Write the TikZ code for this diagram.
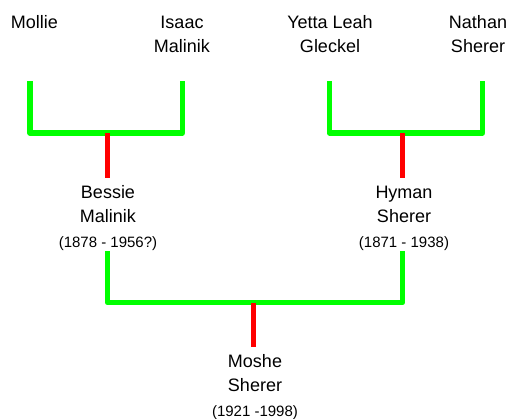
\documentclass[tikz,border=0pt]{standalone}
\usepackage{fontspec}
\setmainfont{Liberation Sans}
\begin{document}
\begin{tikzpicture}[x=1pt,y=-1pt,
  person/.style={anchor=base,align=center,inner sep=0pt,font=\fontsize{18}{24}\selectfont},
  gline/.style={draw={rgb,255:red,0;green,255;blue,0},line width=5.5pt,line join=round},
  rline/.style={draw={rgb,255:red,255;green,0;blue,0},line width=4.5pt}]
\useasboundingbox (0,0) rectangle (510,418);
% people (anchor = baseline of last line)
\node[person] (mollie) at (34.5,28) {Mollie};
\node[person] (isaac) at (182,52) {Isaac\\Malinik};
\node[person] (yetta) at (330,52) {Yetta Leah\\Gleckel};
\node[person] (nathan) at (478,52) {Nathan\\Sherer};
\node[person] (bessie) at (108,247) {Bessie\\Malinik\\[1pt]{\fontsize{15}{18}\selectfont (1878 - 1956?)}};
\node[person] (hyman) at (404,247) {Hyman\\Sherer\\[1pt]{\fontsize{15}{18}\selectfont (1871 - 1938)}};
\node[person] (moshe) at (255,416.5) {Moshe\\Sherer\\[1pt]{\fontsize{15}{18}\selectfont (1921 -1998)}};
% connector ends
\coordinate (mollieB) at (30,81);
\coordinate (isaacB) at (182.5,81);
\coordinate (yettaB) at (329.5,81);
\coordinate (nathanB) at (482.5,81);
\coordinate (j1) at (107.5,133);
\coordinate (j2) at (402.7,133);
\coordinate (bessieT) at (107.5,178);
\coordinate (hymanT) at (402.7,178);
\coordinate (bessieB) at (107.5,251);
\coordinate (hymanB) at (402.5,251);
\coordinate (j3) at (253.5,302.5);
\coordinate (mosheT) at (253.5,347);
% brackets
\draw[gline] (mollieB) |- (j1) -| (isaacB);
\draw[rline] (j1) -- (bessieT);
\draw[gline] (yettaB) |- (j2) -| (nathanB);
\draw[rline] (j2) -- (hymanT);
\draw[gline] (bessieB) |- (j3) -| (hymanB);
\draw[rline] (j3) -- (mosheT);
\end{tikzpicture}
\end{document}
